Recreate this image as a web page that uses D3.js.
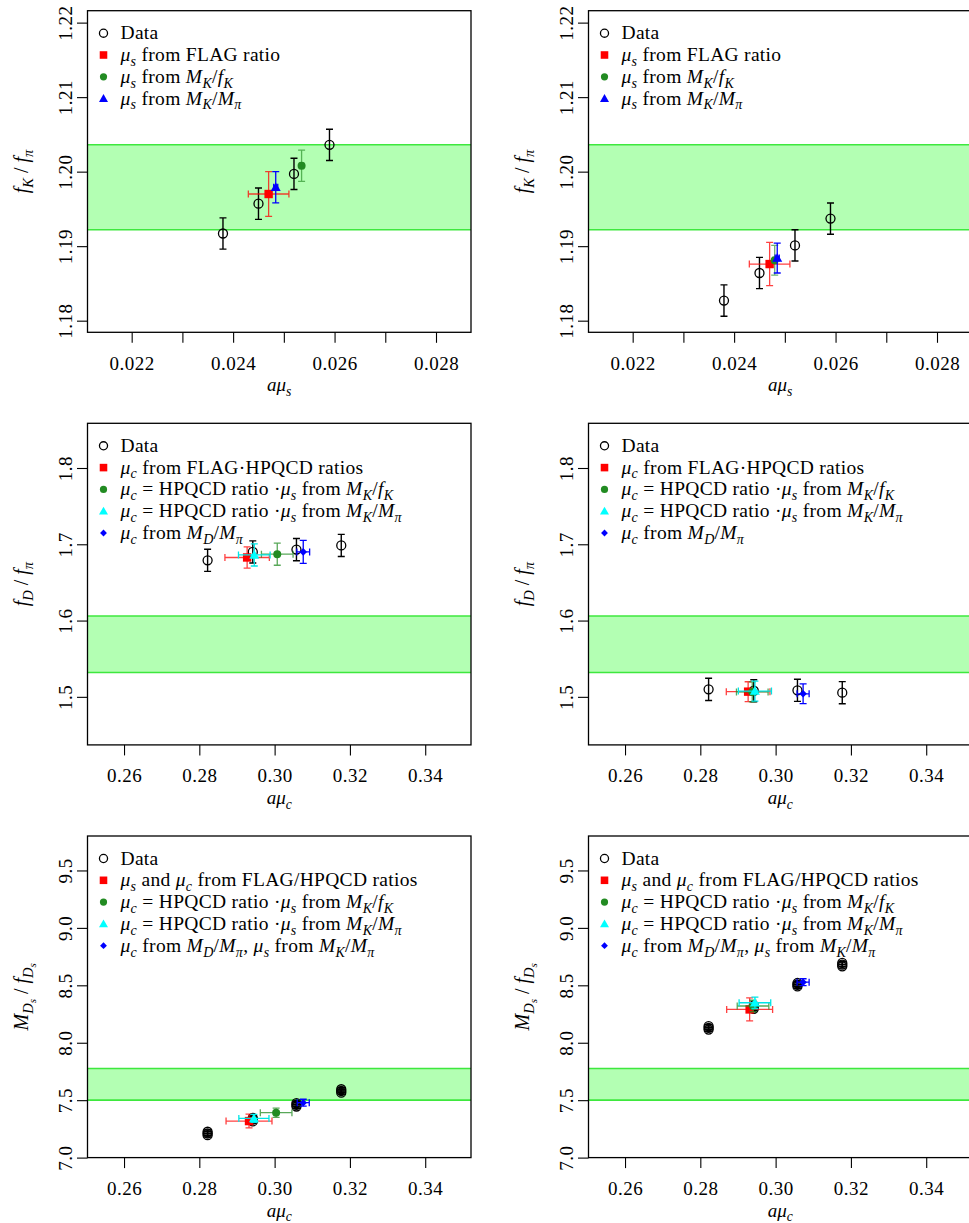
<!DOCTYPE html>
<html>
<head>
<meta charset="utf-8">
<script src="https://cdn.jsdelivr.net/npm/d3@7"></script>
<style>
body { margin: 0; background: #fff; }
svg { display: block; }
text { font-family: "Liberation Serif", "Times New Roman", serif; fill: #000; white-space: pre; }
</style>
</head>
<body>
<svg id="fig" width="969" height="1223"></svg>
<script>
// ---- data ----
// row 1: f_K / f_pi against a mu_s
var aMuS = [0.0238, 0.0245, 0.0252, 0.0259];
var fKfPiLeft = [1.1917, 1.1957, 1.1997, 1.2036];
var fKfPiRight = [1.1827, 1.1864, 1.1901, 1.1937];
var fKfPiErr = [0.0021, 0.0021, 0.0021, 0.0021];
var fKfPiBand = [1.1922, 1.2036];

// row 2: f_D / f_pi against a mu_c
var aMuC = [0.2822, 0.2942, 0.3058, 0.3177];
var fDfPiLeft = [1.679, 1.690, 1.693, 1.6985];
var fDfPiRight = [1.5098, 1.508, 1.5085, 1.5055];
var fDfPiErr = [0.0145, 0.0145, 0.0145, 0.0145];
var fDfPiBand = [1.532, 1.606];

// row 3: M_Ds / f_Ds against a mu_c (several overlapping points per mass)
var mDsfDsLeft = [[7.195, 7.21, 7.225], [7.315, 7.33, 7.345], [7.445, 7.46, 7.475], [7.565, 7.58, 7.595]];
var mDsfDsRight = [[8.115, 8.13, 8.145], [8.295, 8.31, 8.325], [8.49, 8.505, 8.52], [8.665, 8.68, 8.695]];
var mDsfDsErr = [0.015, 0.015, 0.015, 0.015];
var mDsfDsBand = [7.50, 7.776];

// estimates: [x, xErr, y, yErr] for left panel and right panel
var r1Flag = [[0.0247, 0.0004, 1.1970, 0.0030], [0.0247, 0.0004, 1.1876, 0.0029]];
var r1MKfK = [[0.02535, 0.00004, 1.2008, 0.0021], [0.0248, 0.00004, 1.1881, 0.0020]];
var r1MKMpi = [[0.02484, 0.00004, 1.1979, 0.0021], [0.02485, 0.00004, 1.1884, 0.0020]];

var r2Flag = [[0.2927, 0.0059, 1.6827, 0.014], [0.2927, 0.0058, 1.5068, 0.013]];
var r2MKfK = [[0.3007, 0.0042, 1.687, 0.0145], [0.2938, 0.0042, 1.5065, 0.013]];
var r2MKMpi = [[0.2946, 0.0042, 1.686, 0.0145], [0.2945, 0.0044, 1.5075, 0.013]];
var r2MDMpi = [[0.3076, 0.0017, 1.690, 0.015], [0.3073, 0.0016, 1.504, 0.013]];

var r3Flag = [[0.2932, 0.0061, 7.318, 0.06], [0.2931, 0.0061, 8.29, 0.10]];
var r3MKfK = [[0.3004, 0.0042, 7.391, 0.04], [0.2940, 0.0042, 8.32, 0.05]];
var r3MKMpi = [[0.2945, 0.0040, 7.341, 0.035], [0.2945, 0.0042, 8.348, 0.05]];
var r3MDMpi = [[0.3076, 0.0016, 7.478, 0.03], [0.3073, 0.0016, 8.527, 0.03]];

// axes
var xTicksS = [0.022, 0.023, 0.024, 0.025, 0.026, 0.027, 0.028];
var xLabelsS = [0.022, 0.024, 0.026, 0.028];
var xTicksC = [0.26, 0.28, 0.30, 0.32, 0.34];
var yTicksFK = [1.18, 1.19, 1.20, 1.21, 1.22];
var yTicksFD = [1.5, 1.6, 1.7, 1.8];
var yTicksMDs = [7.0, 7.5, 8.0, 8.5, 9.0, 9.5];

// legend texts as [text, mode] pieces; mode r roman, i italic, s subscript, ss sub-subscript
var mus = [["μ", "i"], ["s", "s"]];
var muc = [["μ", "i"], ["c", "s"]];
var mKfK = [["M", "i"], ["K", "s"], ["/", "r"], ["f", "i"], ["K", "s"]];
var mKMpi = [["M", "i"], ["K", "s"], ["/", "r"], ["M", "i"], ["π", "s"]];
var mDMpi = [["M", "i"], ["D", "s"], ["/", "r"], ["M", "i"], ["π", "s"]];
var hpqcd = [[" = HPQCD ratio ·", "r"]];

var legendS = [
    [["Data", "r"]],
    mus.concat([[" from FLAG ratio", "r"]]),
    mus.concat([[" from ", "r"]], mKfK),
    mus.concat([[" from ", "r"]], mKMpi)
];
var legendFD = [
    [["Data", "r"]],
    muc.concat([[" from FLAG·HPQCD ratios", "r"]]),
    muc.concat(hpqcd, mus, [[" from ", "r"]], mKfK),
    muc.concat(hpqcd, mus, [[" from ", "r"]], mKMpi),
    muc.concat([[" from ", "r"]], mDMpi)
];
var legendMDs = [
    [["Data", "r"]],
    mus.concat([[" and ", "r"]], muc, [[" from FLAG/HPQCD ratios", "r"]]),
    muc.concat(hpqcd, mus, [[" from ", "r"]], mKfK),
    muc.concat(hpqcd, mus, [[" from ", "r"]], mKMpi),
    muc.concat([[" from ", "r"]], mDMpi, [[", ", "r"]], mus, [[" from ", "r"]], mKMpi)
];

var svg = d3.select('#fig');

var W = 383.5, H = 321.6;
var colLeft = [87.5, 588.5];
var rowTop = [10.7, 423.3, 836];
var serif = '"Liberation Serif", "Times New Roman", serif';

/**
 * Write a piece of math-like text into a text element using tspans.
 */
function mathText(txt, parts, size) {
    var cur = 0;
    parts.forEach(function(p) {
        var mode = p[1];
        var off = 0, fs = size;
        if (mode === 's') { off = size * 0.25; fs = size * 0.72; }
        if (mode === 'ss') { off = size * 0.42; fs = size * 0.55; }
        txt.append('tspan')
            .attr('dy', (off - cur).toFixed(2))
            .style('font-size', fs + 'px')
            .style('font-style', mode === 'r' ? 'normal' : 'italic')
            .text(p[0]);
        cur = off;
    });
}

function drawSymbol(g, kind, x, y, small) {
    var k = small ? 0.9 : 1;
    if (kind === 'data') {
        g.append('circle').attr('cx', x).attr('cy', y).attr('r', 4.5 * k)
            .style('fill', 'none').style('stroke', '#000').style('stroke-width', 1.3);
    } else if (kind === 'flag') {
        var s = 8.4 * k;
        g.append('rect').attr('x', x - s / 2).attr('y', y - s / 2).attr('width', s).attr('height', s)
            .style('fill', '#ff0000');
    } else if (kind === 'mkfk') {
        g.append('circle').attr('cx', x).attr('cy', y).attr('r', 4 * k).style('fill', '#228b22');
    } else if (kind === 'tri' || kind === 'cyan') {
        var h = 5 * k;
        g.append('path')
            .attr('d', 'M' + x + ',' + (y - h) + 'L' + (x + h) + ',' + (y + h * 0.75) + 'L' + (x - h) + ',' + (y + h * 0.75) + 'Z')
            .style('fill', kind === 'tri' ? '#0000ff' : '#00ffff');
    } else if (kind === 'diamond') {
        var d = 3.8 * k;
        g.append('path')
            .attr('d', 'M' + x + ',' + (y - d) + 'L' + (x + d) + ',' + y + 'L' + x + ',' + (y + d) + 'L' + (x - d) + ',' + y + 'Z')
            .style('fill', '#0000ff');
    }
}

function errBars(g, x, y, xs, ys, color, xErr, yErr, width) {
    var cap = 3.5;
    if (yErr > 0) {
        var y0 = ys(y - yErr), y1 = ys(y + yErr), px = xs(x);
        g.append('path')
            .attr('d', 'M' + px + ',' + y0 + 'V' + y1 + 'M' + (px - cap) + ',' + y0 + 'H' + (px + cap) +
                'M' + (px - cap) + ',' + y1 + 'H' + (px + cap))
            .style('stroke', color).style('stroke-width', width).style('fill', 'none');
    }
    if (xErr > 0) {
        var x0 = xs(x - xErr), x1 = xs(x + xErr), py = ys(y);
        g.append('path')
            .attr('d', 'M' + x0 + ',' + py + 'H' + x1 + 'M' + x0 + ',' + (py - cap) + 'V' + (py + cap) +
                'M' + x1 + ',' + (py - cap) + 'V' + (py + cap))
            .style('stroke', color).style('stroke-width', width).style('fill', 'none');
    }
}

function drawPanel(p) {
    var g = svg.append('g').attr('transform', 'translate(' + p.left + ',' + p.top + ')');
    var xs = d3.scaleLinear().domain(p.xDomain).range([0, W]);
    var ys = d3.scaleLinear().domain(p.yDomain).range([H, 0]);

    // band
    g.append('rect').attr('x', 0).attr('width', W)
        .attr('y', ys(p.band[1])).attr('height', ys(p.band[0]) - ys(p.band[1]))
        .style('fill', '#b3ffb3');
    p.band.forEach(function(b) {
        g.append('line').attr('x1', 0).attr('x2', W).attr('y1', ys(b)).attr('y2', ys(b))
            .style('stroke', '#3ee83e').style('stroke-width', 1.6);
    });

    // data points
    p.xData.forEach(function(x, i) {
        var ySet = Array.isArray(p.yData[i]) ? p.yData[i] : [p.yData[i]];
        ySet.forEach(function(y) {
            errBars(g, x, y, xs, ys, '#000', 0, p.yErr[i], 1.4);
            drawSymbol(g, 'data', xs(x), ys(y));
        });
    });

    // estimates
    p.estimates.forEach(function(e) {
        var v = e.vals;
        errBars(g, v[0], v[2], xs, ys, e.bar, v[1], v[3], 1.3);
        drawSymbol(g, e.kind, xs(v[0]), ys(v[2]));
    });

    // box
    g.append('rect').attr('width', W).attr('height', H)
        .style('fill', 'none').style('stroke', '#000').style('stroke-width', 1.3);

    // x axis
    var xAxis = d3.axisBottom(xs).tickValues(p.xTicks).tickSize(10.5)
        .tickFormat(function(d) {
            return p.xLabels.some(function(l) { return Math.abs(l - d) < 1e-9; }) ? d3.format(p.xFmt)(d) : '';
        });
    var ax = g.append('g').attr('transform', 'translate(0,' + H + ')').call(xAxis);
    ax.attr('font-family', null).attr('font-size', null);
    ax.select('.domain').remove();
    ax.selectAll('line').style('stroke', '#000').style('stroke-width', 1.1);
    ax.selectAll('text').attr('y', 37.5).attr('dy', null)
        .style('font-size', '19px').style('font-family', serif).style('letter-spacing', '0.5px');

    // y axis
    var yAxis = d3.axisLeft(ys).tickValues(p.yTicks).tickSize(10.5).tickFormat(d3.format(p.yFmt));
    var ay = g.append('g').call(yAxis);
    ay.attr('font-family', null).attr('font-size', null);
    ay.select('.domain').remove();
    ay.selectAll('line').style('stroke', '#000').style('stroke-width', 1.1);
    ay.selectAll('text')
        .attr('x', null).attr('dy', null)
        .attr('transform', 'translate(-15.5,0) rotate(-90)')
        .attr('text-anchor', 'middle')
        .style('font-size', '19px').style('font-family', serif).style('letter-spacing', '0.5px');

    // axis labels
    var xl = g.append('text').attr('x', W / 2).attr('y', H + 59).attr('text-anchor', 'middle');
    mathText(xl, p.xLabel, 19);
    var yl = g.append('text').attr('text-anchor', 'middle')
        .attr('transform', 'translate(-59.5,' + (H / 2) + ') rotate(-90)');
    mathText(yl, p.yLabel, 20);

    // legend
    var kinds = ['data'].concat(p.estimates.map(function(e) { return e.kind; }));
    p.legend.forEach(function(parts, i) {
        var cy = 22.5 + i * 21.8;
        drawSymbol(g, kinds[i], 16, cy, true);
        var t = g.append('text').attr('x', 33).attr('y', cy + 6).style('letter-spacing', '0.3px');
        mathText(t, parts, 19.5);
    });
}

var xDomS = [0.021129, 0.02869];
var xDomC = [0.2503, 0.35216];
var labS = [["a", "i"], ["μ", "i"], ["s", "s"]];
var labC = [["a", "i"], ["μ", "i"], ["c", "s"]];

[0, 1].forEach(function(side) {
    drawPanel({
        left: colLeft[side], top: rowTop[0],
        xDomain: xDomS, yDomain: [1.17844, 1.2216],
        xTicks: xTicksS, xLabels: xLabelsS, xFmt: '.3f',
        yTicks: yTicksFK, yFmt: '.2f',
        band: fKfPiBand,
        xData: aMuS, yData: side ? fKfPiRight : fKfPiLeft, yErr: fKfPiErr,
        estimates: [
            {kind: 'flag', bar: 'rgba(255,0,0,0.75)', vals: r1Flag[side]},
            {kind: 'mkfk', bar: 'rgba(34,139,34,0.65)', vals: r1MKfK[side]},
            {kind: 'tri', bar: '#0000ff', vals: r1MKMpi[side]}
        ],
        legend: legendS,
        xLabel: labS,
        yLabel: [["f", "i"], ["K", "s"], [" / ", "r"], ["f", "i"], ["π", "s"]]
    });
    drawPanel({
        left: colLeft[side], top: rowTop[1],
        xDomain: xDomC, yDomain: [1.437, 1.8586],
        xTicks: xTicksC, xLabels: xTicksC, xFmt: '.2f',
        yTicks: yTicksFD, yFmt: '.1f',
        band: fDfPiBand,
        xData: aMuC, yData: side ? fDfPiRight : fDfPiLeft, yErr: fDfPiErr,
        estimates: [
            {kind: 'flag', bar: 'rgba(255,0,0,0.75)', vals: r2Flag[side]},
            {kind: 'mkfk', bar: 'rgba(34,139,34,0.75)', vals: r2MKfK[side]},
            {kind: 'cyan', bar: '#00e5e5', vals: r2MKMpi[side]},
            {kind: 'diamond', bar: '#0000ff', vals: r2MDMpi[side]}
        ],
        legend: legendFD,
        xLabel: labC,
        yLabel: [["f", "i"], ["D", "s"], [" / ", "r"], ["f", "i"], ["π", "s"]]
    });
    drawPanel({
        left: colLeft[side], top: rowTop[2],
        xDomain: xDomC, yDomain: [7.0, 9.8],
        xTicks: xTicksC, xLabels: xTicksC, xFmt: '.2f',
        yTicks: yTicksMDs, yFmt: '.1f',
        band: mDsfDsBand,
        xData: aMuC, yData: side ? mDsfDsRight : mDsfDsLeft, yErr: mDsfDsErr,
        estimates: [
            {kind: 'flag', bar: 'rgba(255,0,0,0.75)', vals: r3Flag[side]},
            {kind: 'mkfk', bar: 'rgba(34,139,34,0.75)', vals: r3MKfK[side]},
            {kind: 'cyan', bar: '#00e5e5', vals: r3MKMpi[side]},
            {kind: 'diamond', bar: '#0000ff', vals: r3MDMpi[side]}
        ],
        legend: legendMDs,
        xLabel: labC,
        yLabel: [["M", "i"], ["D", "s"], ["s", "ss"], [" / ", "r"], ["f", "i"], ["D", "s"], ["s", "ss"]]
    });
});
</script>
</body>
</html>
